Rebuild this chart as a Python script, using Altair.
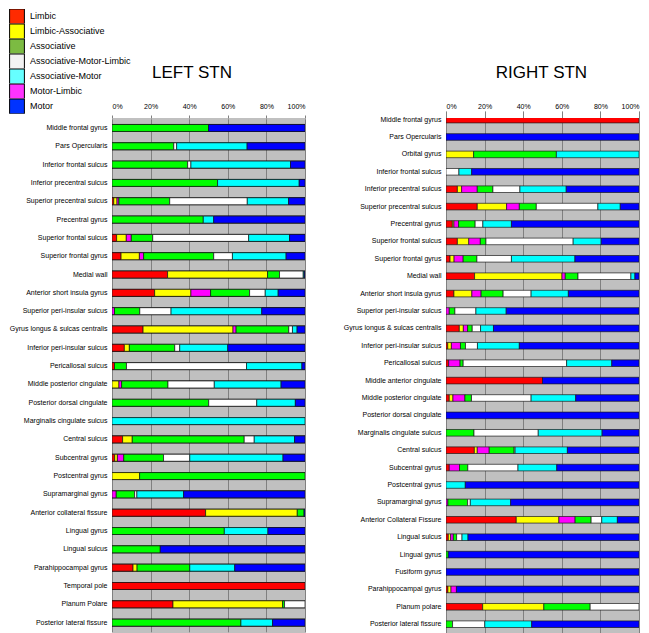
import altair as alt
import pandas as pd

# ---------------- data ----------------
legend_order = ["Limbic", "Limbic-Associative", "Associative", "Associative-Motor-Limbic",
                "Associative-Motor", "Motor-Limbic", "Motor"]
legend_colors = ["#FF2A00", "#FFFF00", "#7CBB42", "#F2F2F2", "#66FFFF", "#FF33FF", "#0033FF"]

stack_order = ["Limbic", "Limbic-Associative", "Motor-Limbic", "Associative",
               "Associative-Motor-Limbic", "Associative-Motor", "Motor"]
bar_colors = ["#FF0000", "#FFFF00", "#FF00FF", "#00FF00", "#FFFFFF", "#00FFFF", "#0000FF"]

left_regions = ["Middle frontal gyrus", "Pars Opercularis", "Inferior frontal sulcus",
                "Inferior precentral sulcus", "Superior precentral sulcus", "Precentral gyrus",
                "Superior frontal sulcus", "Superior frontal gyrus", "Medial wall",
                "Anterior short insula gyrus", "Superior peri-insular sulcus",
                "Gyrus longus & sulcas centralis", "Inferior peri-insular sulcus",
                "Pericallosal sulcus", "Middle posterior cingulate", "Posterior dorsal cingulate",
                "Marginalis cingulate sulcus", "Central sulcus", "Subcentral gyrus",
                "Postcentral gyrus", "Supramarginal gyrus", "Anterior collateral fissure",
                "Lingual gyrus", "Lingual sulcus", "Parahippocampal gyrus", "Temporal pole",
                "Planum Polare", "Posterior lateral fissure"]

left_limbic      = [0, 0, 0, 0, 0.9, 0, 2.4, 4.7, 28.8, 22.1, 0, 16.1, 6.4, 1.3, 0, 0, 0, 5.5, 1.4, 0, 0, 48.5, 0, 0, 10.9, 100, 31.6, 0]
left_limb_assoc  = [0, 0, 0, 0, 1.7, 0, 5.0, 9.5, 51.8, 18.8, 0, 46.6, 2.6, 0, 3.6, 0, 0, 5.0, 1.4, 14.3, 0, 47.5, 0, 0, 2.1, 0, 56.8, 0]
left_motor_limb  = [0, 0, 0, 0, 1.0, 0, 2.6, 2.2, 0, 10.2, 1.3, 1.6, 0, 0, 1.4, 0, 0, 0, 3.3, 0, 2.2, 0, 0, 0, 0, 0, 0, 0]
left_assoc       = [50, 32, 39.2, 54.7, 26.3, 47.3, 11.1, 36.3, 6.2, 20.2, 13.1, 27.3, 23.5, 6.2, 24, 50.1, 0, 58, 20.6, 85.7, 9.5, 3.5, 58.2, 25, 27.3, 0, 1.0, 66.8]
left_aml         = [0, 1.5, 1.7, 0, 40.2, 0, 49.7, 9.7, 12.3, 8.1, 16.2, 1.9, 2.6, 62.2, 24, 24.9, 0, 5.2, 13.6, 0, 1.2, 0, 0, 0, 0, 0, 10.6, 0]
left_assoc_motor = [0, 36.5, 51.6, 42.3, 21.4, 5.4, 21.2, 27.8, 0.5, 6.7, 47, 2.4, 24.9, 28.7, 34.6, 20, 100, 20.9, 48.3, 0, 24.2, 0, 22.6, 0, 23.3, 0, 0, 16.4]
left_motor       = [50, 30, 7.5, 3, 8.5, 47.3, 8.0, 9.8, 0.4, 13.9, 22.4, 4.1, 40, 1.6, 12.4, 5, 0, 5.4, 11.4, 0, 62.9, 0.5, 19.2, 75, 36.4, 0, 0, 16.8]

right_regions = ["Middle frontal gyrus", "Pars Opercularis", "Orbital gyrus", "Inferior frontal sulcus",
                 "Inferior precentral sulcus", "Superior precentral sulcus", "Precentral gyrus",
                 "Superior frontal sulcus", "Superior frontal gyrus", "Medial wall",
                 "Anterior short insula gyrus", "Superior peri-insular sulcus",
                 "Gyrus longus & sulcas centralis", "Inferior peri-insular sulcus",
                 "Pericallosal sulcus", "Middle anterior cingulate", "Middle posterior cingulate",
                 "Posterior dorsal cingulate", "Marginalis cingulate sulcus", "Central sulcus",
                 "Subcentral gyrus", "Postcentral gyrus", "Supramarginal gyrus",
                 "Anterior Collateral Fissure", "Lingual sulcus", "Lingual gyrus", "Fusiform gyrus",
                 "Parahippocampal gyrus", "Planum polare", "Posterior lateral fissure"]

right_limbic      = [100, 0, 0, 0, 5.9, 16.2, 3.3, 5.9, 2.1, 14.8, 4.1, 0, 6.9, 0.9, 1.4, 50, 1.7, 0, 0, 14.7, 1.7, 0, 0, 36.4, 1.2, 0, 0, 1.0, 19, 0]
right_limb_assoc  = [0, 0, 14.3, 0, 2.2, 15.2, 0.8, 5.9, 2.1, 45.3, 9.3, 0, 2.1, 1.9, 0, 0, 1.9, 0, 0, 1.5, 0, 0, 0, 22.1, 1.2, 0, 0, 1.6, 31.7, 0]
right_motor_limb  = [0, 0, 0, 0, 8.1, 6.6, 2.4, 6.0, 4.7, 1.7, 4.8, 1.7, 2.2, 4.7, 5.9, 0, 6.2, 0, 0, 6.2, 5.3, 0, 1.0, 8.4, 1.4, 0, 0, 2.8, 0, 0]
right_assoc       = [0, 0, 42.9, 0, 8.1, 8.8, 8.6, 2.9, 7.1, 6.6, 11.4, 2.9, 2.4, 2.6, 1.6, 0, 3.4, 0, 14.5, 12.9, 4.3, 0, 10.2, 8.3, 1.7, 1.2, 0, 0, 24, 3.4]
right_aml         = [0, 0, 0, 6.7, 14, 31.9, 4, 45.2, 17.9, 27.4, 14.5, 10.9, 4.3, 6.2, 53.6, 0, 30.9, 0, 33.3, 0.5, 26, 0, 1.4, 5.5, 2.8, 0, 0, 0, 25.3, 16.7]
right_assoc_motor = [0, 0, 42.8, 6.6, 24, 11.6, 14.8, 14.5, 32.9, 2.1, 19.3, 15.7, 6.7, 21.7, 23.4, 0, 23.1, 0, 33.1, 27.1, 20.1, 10, 20.9, 8.1, 3.1, 0, 0, 0, 0, 24.3]
right_motor       = [0, 100, 0, 86.7, 37.7, 9.7, 66.1, 19.6, 33.2, 2.1, 36.6, 68.8, 75.4, 62, 14.1, 50, 32.8, 100, 19.1, 37.1, 42.6, 90, 66.5, 11.2, 88.6, 98.8, 100, 94.6, 0, 55.6]


def build(regions, series):
    rows = []
    for i, reg in enumerate(regions):
        for k, cat in enumerate(stack_order):
            v = series[k][i]
            if v > 0:
                rows.append({"region": reg, "cat": cat, "value": v, "idx": k})
    return pd.DataFrame(rows)


left_df = build(left_regions, [left_limbic, left_limb_assoc, left_motor_limb, left_assoc,
                               left_aml, left_assoc_motor, left_motor])
right_df = build(right_regions, [right_limbic, right_limb_assoc, right_motor_limb, right_assoc,
                                 right_aml, right_assoc_motor, right_motor])

FONT = "Liberation Sans"


def panel(df, regions, title, height, yrange, title_x, with_legend):
    x = alt.X("value:Q", stack="normalize", title=title,
              scale=alt.Scale(domain=[0, 1], nice=False),
              axis=alt.Axis(orient="top", format=".0%", values=[0, 0.2, 0.4, 0.6, 0.8, 1.0],
                            labelFontSize=7, labelColor="black", labelFont=FONT,
                            tickSize=3, tickColor="#808080", domain=False, labelPadding=6,
                            grid=True, gridColor="#808080", gridWidth=1,
                            titleFontSize=17, titleFontWeight="normal", titleFont=FONT,
                            titleColor="black", titleX=title_x, titleY=-41,
                            titleBaseline="alphabetic", titleAlign="center"))
    y = alt.Y("region:N", sort=regions, title=None,
              scale=alt.Scale(range=yrange, paddingInner=0.62, paddingOuter=0.31),
              axis=alt.Axis(ticks=False, domain=False, grid=False, labelFontSize=7,
                            labelColor="black", labelFont=FONT, labelPadding=5, labelLimit=300))
    order = alt.Order("idx:Q", sort="ascending")
    bars = alt.Chart(df).mark_bar(stroke="#1a1a1a", strokeWidth=0.7, clip=True).encode(
        x=x, y=y, order=order,
        fill=alt.Fill("cat:N", scale=alt.Scale(domain=stack_order, range=bar_colors), legend=None),
    )
    if with_legend:
        under = alt.Chart(df).mark_bar(stroke="black", strokeWidth=1, clip=True).encode(
            x=x, y=y, order=order,
            color=alt.Color("cat:N", scale=alt.Scale(domain=legend_order, range=legend_colors),
                            legend=alt.Legend(orient="none", legendX=-103, legendY=-109, title=None,
                                              symbolType="square", symbolSize=219,
                                              symbolStrokeColor="black", symbolStrokeWidth=1,
                                              labelFontSize=9, labelFont=FONT, labelColor="black",
                                              labelOffset=5, rowPadding=0, clipHeight=14.8,
                                              padding=0, labelLimit=300)),
        )
        ch = alt.layer(under, bars)
    else:
        ch = bars
    return ch.properties(width=193, height=height)


left = panel(left_df, left_regions, "LEFT STN", 514, [0.8, 513.8], 79.5, True)
right = panel(right_df, right_regions, "RIGHT STN", 515, [-7.1, 514.9], 95, False)

chart = alt.hconcat(left, right, spacing=141, bounds="flush", padding=0).resolve_scale(
    x="independent", y="independent", color="independent", fill="independent"
).resolve_legend(color="independent", fill="independent").configure(
    font=FONT
).configure_view(
    fill="#C0C0C0", stroke="#C0C0C0"
)

chart.save("out.html", embed_options={"renderer": "svg", "actions": False})
